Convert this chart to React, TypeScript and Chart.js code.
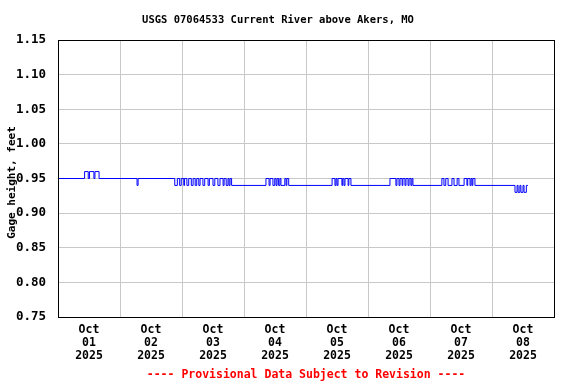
import { useEffect, useRef } from 'react';
import { Chart, registerables } from 'chart.js';

Chart.register(...registerables);

const TITLE = 'USGS 07064533 Current River above Akers, MO';
const Y_TITLE = 'Gage height, feet';
const FOOTER = '---- Provisional Data Subject to Revision ----';
const monthLabel = 'Oct';
const yearLabel = '2025';
const dayLabels = ['01', '02', '03', '04', '05', '06', '07', '08'];
const yTicks = [0.75, 0.8, 0.85, 0.9, 0.95, 1.0, 1.05, 1.1, 1.15];

// hours since Oct 01 00:00 at which the reading changes, and the reading from then on
const readingHours = [
  0, 10.3, 11.7, 12.2, 13.9, 14.3, 15.9, 30.6, 31.0,
  45.2, 46.2, 47.1, 47.7, 48.7, 49.0, 49.9, 50.6, 51.6, 52.3, 53.1, 53.7, 54.5, 55.0,
  56.1, 56.8, 58.1, 58.6, 60.0, 60.7, 61.9, 62.7, 63.9, 64.3, 65.1, 65.8, 66.2, 66.6, 67.2,
  80.5, 81.7, 82.1, 83.2, 83.9, 84.4, 84.8, 85.4, 85.9, 86.3, 87.8, 88.3, 88.6, 89.3,
  106.1, 107.2, 107.6, 108.0, 108.4, 109.9, 110.2, 110.7, 111.1, 112.3, 112.6, 113.4,
  128.5, 130.8, 131.2, 132.0, 132.4, 133.2, 133.5, 134.3, 134.7, 135.5, 135.9, 136.6, 137.0, 137.4,
  148.6, 149.4, 150.1, 151.0, 152.5, 153.3, 154.5, 155.2, 157.2, 158.3, 158.6, 159.5, 159.9, 160.3, 160.6, 161.4,
  176.9, 177.7, 178.1, 178.8, 179.2, 180.0, 180.4, 181.3, 181.9,
];
const gageHeight = [
  0.95, 0.96, 0.95, 0.96, 0.95, 0.96, 0.95, 0.94, 0.95,
  0.94, 0.95, 0.94, 0.95, 0.94, 0.95, 0.94, 0.95, 0.94, 0.95, 0.94, 0.95, 0.94, 0.95,
  0.94, 0.95, 0.94, 0.95, 0.94, 0.95, 0.94, 0.95, 0.94, 0.95, 0.94, 0.95, 0.94, 0.95, 0.94,
  0.95, 0.94, 0.95, 0.94, 0.95, 0.94, 0.95, 0.94, 0.95, 0.94, 0.95, 0.94, 0.95, 0.94,
  0.95, 0.94, 0.95, 0.94, 0.95, 0.94, 0.95, 0.94, 0.95, 0.94, 0.95, 0.94,
  0.95, 0.94, 0.95, 0.94, 0.95, 0.94, 0.95, 0.94, 0.95, 0.94, 0.95, 0.94, 0.95, 0.94,
  0.95, 0.94, 0.95, 0.94, 0.95, 0.94, 0.95, 0.94, 0.95, 0.94, 0.95, 0.94, 0.95, 0.94, 0.95, 0.94,
  0.93, 0.94, 0.93, 0.94, 0.93, 0.94, 0.93, 0.94, 0.94,
];

const FONT = 'DejaVu Sans Mono';

const framePlugin = {
  id: 'frameAndTexts',
  afterDraw(chart: any) {
    const { ctx, chartArea } = chart;
    const { left, right, top, bottom } = chartArea;
    ctx.save();
    ctx.strokeStyle = '#000';
    ctx.lineWidth = 1;
    ctx.strokeRect(Math.round(left) + 0.5, Math.round(top) + 0.5, Math.round(right - left), Math.round(bottom - top));

    ctx.fillStyle = '#000';
    ctx.textAlign = 'center';
    ctx.textBaseline = 'middle';
    ctx.font = `bold 10.5px "${FONT}"`;
    ctx.fillText(TITLE, 278, 20);

    ctx.save();
    ctx.translate(12, (top + bottom) / 2 + 4);
    ctx.rotate(-Math.PI / 2);
    ctx.font = `bold 11px "${FONT}"`;
    ctx.fillText(Y_TITLE, 0, 0);
    ctx.restore();

    ctx.fillStyle = '#ff0000';
    ctx.font = `bold 11.5px "${FONT}"`;
    ctx.fillText(FOOTER, (left + right) / 2, 375);
    ctx.restore();
  },
};

export default function App() {
  const ref = useRef<HTMLCanvasElement>(null);
  useEffect(() => {
    const chart = new Chart(ref.current!, {
      type: 'line',
      data: {
        datasets: [
          {
            data: readingHours.map((h, i) => ({ x: h, y: gageHeight[i] })),
            borderColor: '#0000ff',
            borderWidth: 1,
            pointRadius: 0,
            stepped: 'before',
            fill: false,
          },
        ],
      },
      options: {
        animation: false,
        responsive: false,
        layout: { padding: { top: 40, right: 22, left: 0, bottom: 0 } },
        plugins: { legend: { display: false }, tooltip: { enabled: false }, title: { display: false } },
        scales: {
          x: {
            type: 'linear',
            min: 0,
            max: 192,
            afterBuildTicks: (s: any) => {
              s.ticks = Array.from({ length: 17 }, (_, i) => ({ value: i * 12 }));
            },
            grid: {
              color: (c: any) => (c.tick && c.tick.value % 24 === 0 ? '#c8c8c8' : 'rgba(0,0,0,0)'),
              drawTicks: false,
            },
            border: { color: '#000', width: 1 },
            ticks: {
              autoSkip: false,
              maxRotation: 0,
              padding: 7,
              color: '#000',
              font: { family: FONT, size: 11.5, weight: 'bold', lineHeight: 1.13 },
              callback: (v: any) => {
                const n = Number(v);
                if (n % 24 === 12) {
                  return [monthLabel, dayLabels[(n - 12) / 24], yearLabel];
                }
                return '';
              },
            },
            afterFit: (s: any) => {
              s.height = 67;
            },
          },
          y: {
            min: 0.75,
            max: 1.15,
            afterBuildTicks: (s: any) => {
              s.ticks = yTicks.map((v) => ({ value: v }));
            },
            grid: { color: '#c8c8c8', drawTicks: false },
            border: { color: '#000', width: 1 },
            ticks: {
              padding: 12,
              color: '#000',
              font: { family: FONT, size: 12.5, weight: 'bold' },
              callback: (v: any) => Number(v).toFixed(2),
            },
            afterFit: (s: any) => {
              s.width = 58;
            },
          },
        },
      } as any,
      plugins: [framePlugin],
    });
    return () => chart.destroy();
  }, []);
  return (
    <div style={{ position: 'fixed', left: 0, top: 0, width: 576, height: 384, background: '#fff' }}>
      <canvas ref={ref} width={576} height={384} style={{ display: 'block' }} />
    </div>
  );
}
